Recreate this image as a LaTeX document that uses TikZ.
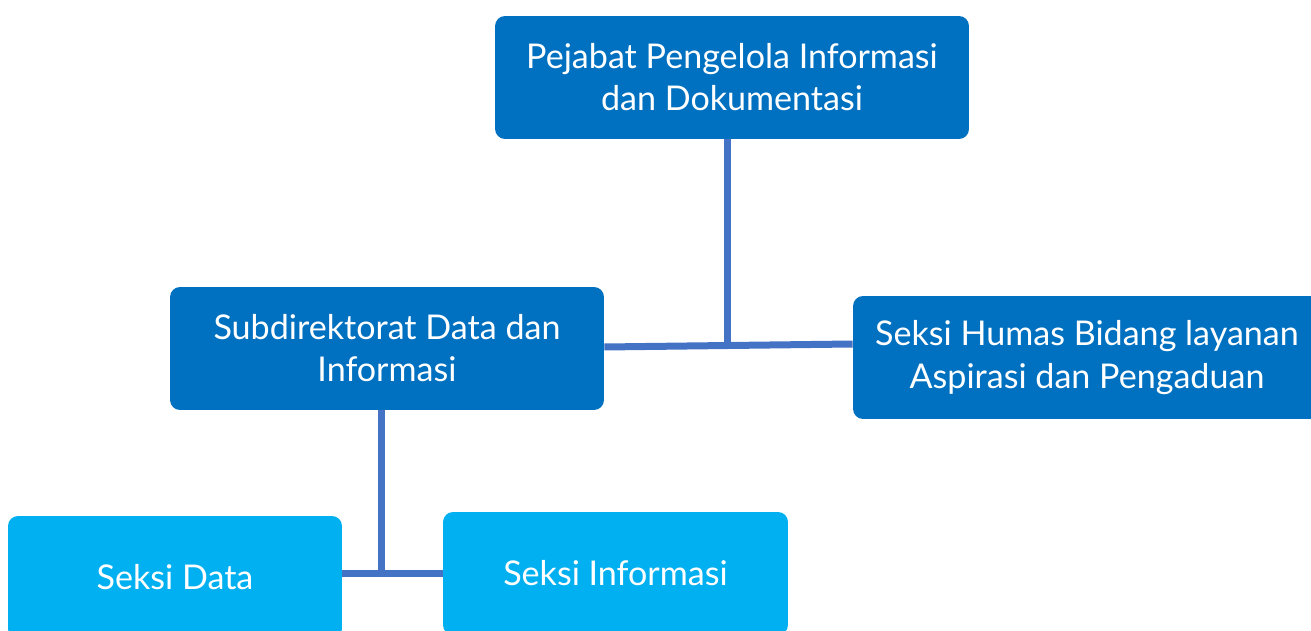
\documentclass[tikz,border=0pt]{standalone}
\usepackage{fontspec}
\setmainfont{Lato}
\usetikzlibrary{positioning}
\definecolor{unitblue}{HTML}{0070C0}
\definecolor{seksiblue}{HTML}{00B0F0}
\definecolor{linkblue}{HTML}{4472C4}

\begin{document}
\begin{tikzpicture}[
                x=0.02cm, y=-0.02cm,
                every node/.style={rectangle, rounded corners=0.2cm, text=white, align=center,
                  font=\fontsize{19.4}{24}\selectfont, inner sep=0pt, minimum height=2.46cm},
                unit/.style={fill=unitblue},
                seksi/.style={fill=seksiblue},
                link/.style={draw=linkblue, line width=0.14cm}
                ]
                \useasboundingbox (0,0) rectangle (1311,631);
                % Define the nodes
                \node (ppid) [unit, minimum width=9.48cm] at (732,77.5) {Pejabat Pengelola Informasi\\dan Dokumentasi};
                \node (subdit) [unit, minimum width=8.68cm] at (387,348.5) {Subdirektorat Data dan\\Informasi};
                \node (humas) [unit, minimum width=9.36cm] at (1087,357.5) {Seksi Humas Bidang layanan\\Aspirasi dan Pengaduan};
                \node (data) [seksi, minimum width=6.68cm] at (175,577.5) {Seksi Data};
                \node (info) [seksi, minimum width=6.9cm] at (615.5,573.5) {Seksi Informasi};
                \coordinate (j1) at (727,345.5);
                \coordinate (j2) at (381,573);

                % Draw the lines
                \draw[link] (subdit.east |- 0,347) -- (humas.west |- 0,344);
                \draw[link] (ppid.south -| j1) -- (j1);
                \draw[link] (subdit.south -| j2) -- (j2);
                \draw[link] (data.east |- j2) -- (info.west |- j2);
            \end{tikzpicture}
\end{document}
